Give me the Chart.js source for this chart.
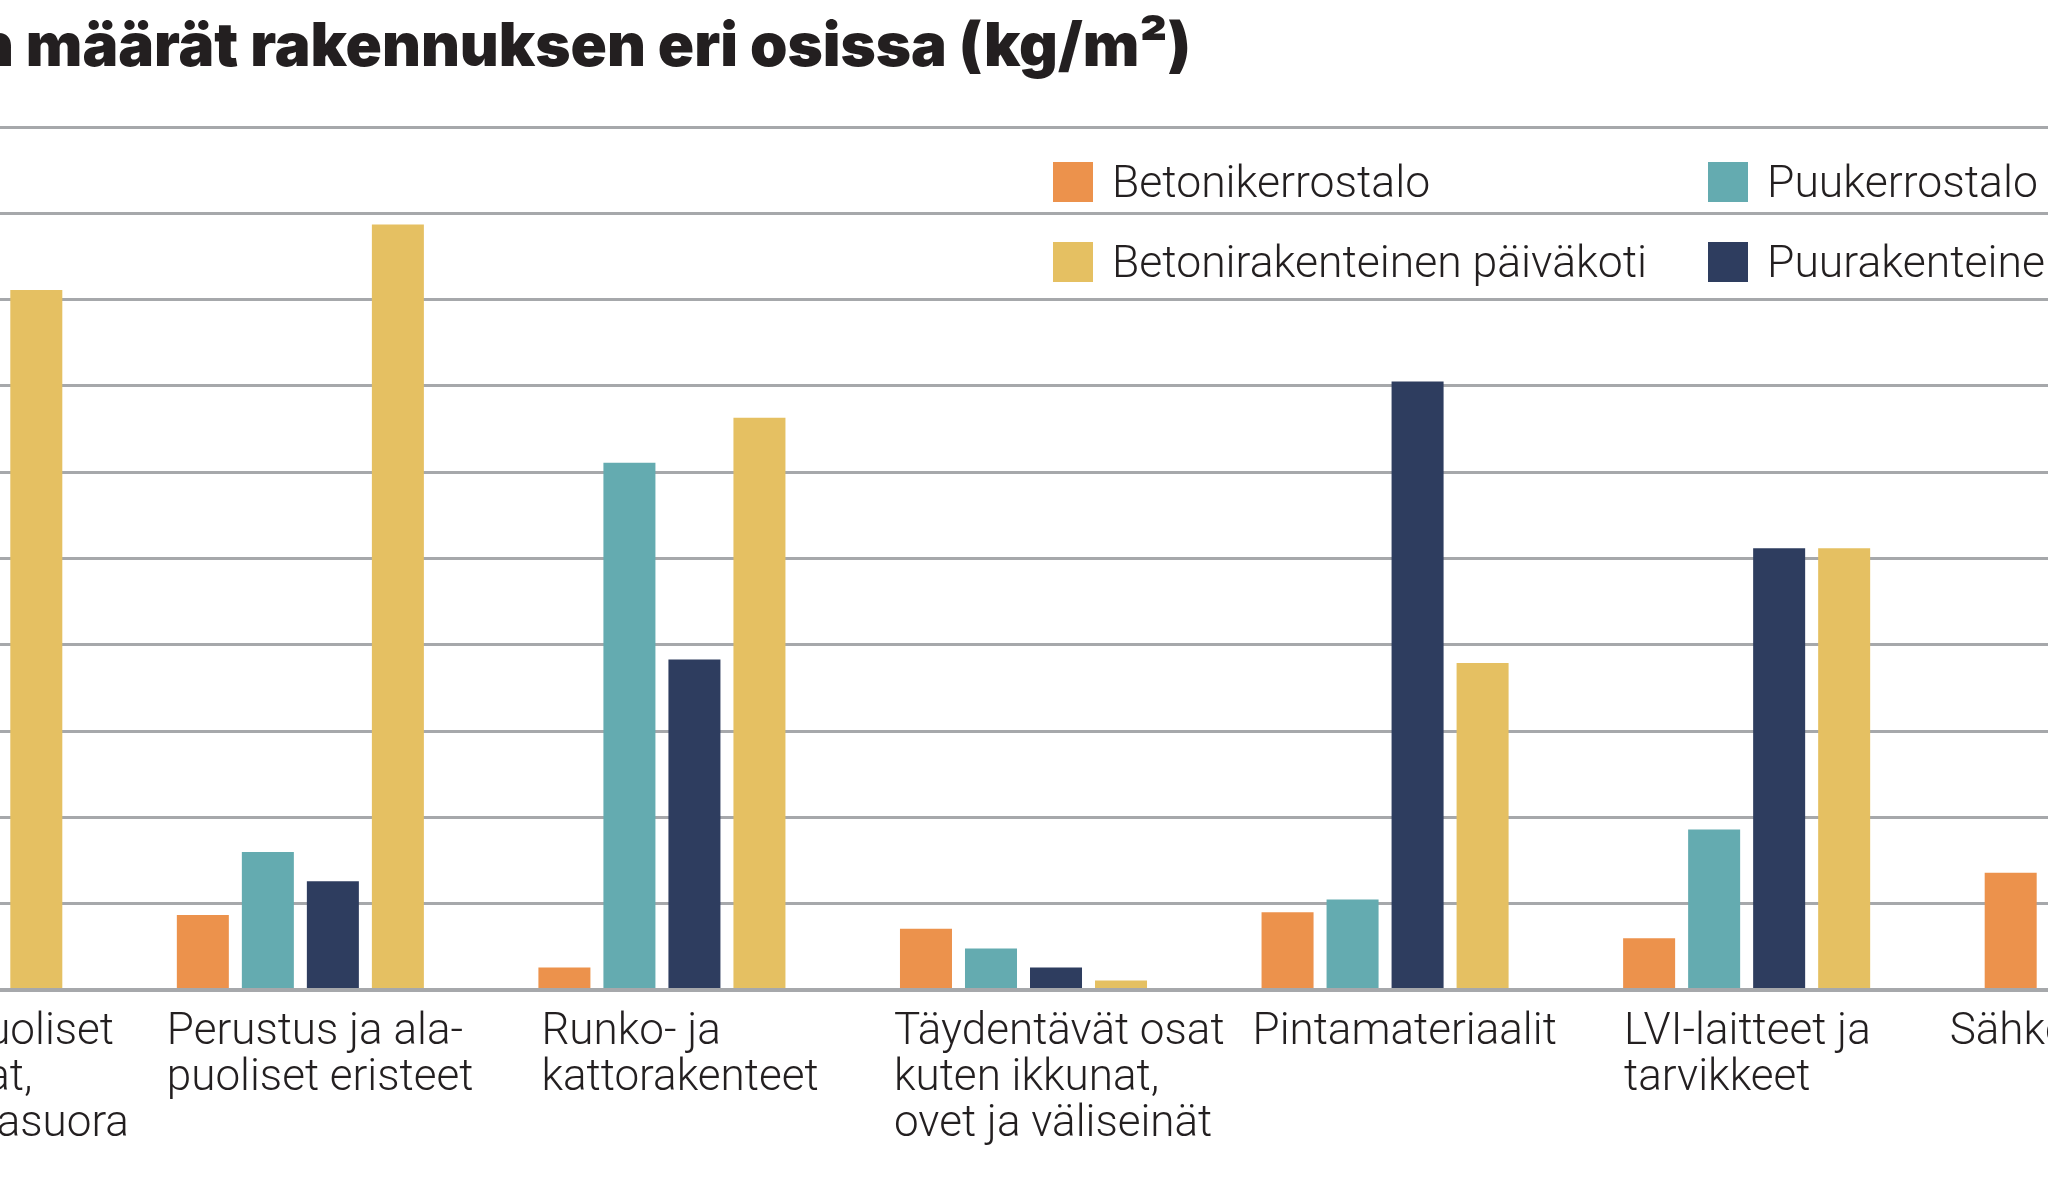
<!DOCTYPE html>
<html><head><meta charset="utf-8">
<script src="https://cdn.jsdelivr.net/npm/chart.js@4.4.1/dist/chart.umd.min.js"></script>
<style>
html,body{margin:0;padding:0;background:#fff;overflow:hidden;width:2048px;height:1195px;}
#wrap{position:absolute;left:-242px;top:0;width:2531px;height:1195px;}
</style></head><body>
<div id="wrap"><canvas id="c" width="2531" height="1195"></canvas></div>
<script>
// ---- data ----
const titleText = "Sitoutuneen hiilen määrät rakennuksen eri osissa (kg/m²)";
const categories = [
  ["Muu yläpuoliset", "ovi, ikkunat,", "julkisivut, asuora"],
  ["Perustus ja ala-", "puoliset eristeet"],
  ["Runko- ja", "kattorakenteet"],
  ["Täydentävät osat", "kuten ikkunat,", "ovet ja väliseinät"],
  ["Pintamateriaalit"],
  ["LVI-laitteet ja", "tarvikkeet"],
  ["Sähköjärjestelmät"]
];
const seriesNames = ["Betonikerrostalo", "Puukerrostalo", "Puurakenteinen päiväkoti", "Betonirakenteinen päiväkoti"];
const seriesColors = ["#ec924c", "#64abb0", "#2e3d5f", "#e5c062"];
const betonikerrostalo = [null, 8.7, 2.6, 7.1, 9.0, 6.0, 13.6];
const puukerrostalo    = [null, 16.0, 61.1, 4.8, 10.5, 18.6, null];
const puuPaivakoti     = [null, 12.6, 38.3, 2.6, 70.5, 51.2, null];
const betoniPaivakoti  = [81.1, 88.7, 66.3, 1.1, 37.9, 51.2, null];
const yTicks = [0, 10, 20, 30, 40, 50, 60, 70, 80, 90, 100];
// legend arrangement: [column][row] -> series index
const legendOrder = [[0, 3], [1, 2]];

// ---- layout / style ----
const PAGE_SHIFT = 242; // canvas starts 242px left of the page
const CAT_PCT = 260 / 361.5;
const BAR_PCT = 0.8;
const labelNudge = [-5, -10, 3, -6, -9, 1, -35];
const labelFont = '300 44px Roboto, "Open Sans", sans-serif';

const overlay = {
  id: 'overlay',
  afterDraw(chart) {
    const ctx = chart.ctx;
    const xs = chart.scales.x;
    ctx.save();
    // category labels
    const catW = xs.getPixelForValue(1) - xs.getPixelForValue(0);
    const groupW = catW * CAT_PCT;
    const slot = groupW / 4;
    ctx.font = labelFont;
    ctx.fillStyle = '#231f20';
    ctx.textAlign = 'left';
    ctx.textBaseline = 'alphabetic';
    categories.forEach((lines, i) => {
      const c = xs.getPixelForValue(i);
      const left = c - groupW / 2 + slot * (1 - BAR_PCT) / 2 + labelNudge[i];
      lines.forEach((ln, j) => ctx.fillText(ln, left, 1044 + j * 46));
    });
    // page coordinates for title and legend
    ctx.translate(PAGE_SHIFT, 0);
    ctx.font = '900 60px Inter, Lato, "Open Sans", sans-serif';
    ctx.textAlign = 'right';
    ctx.fillStyle = '#231f20';
    ctx.fillText(titleText, 1191, 66);
    const colX = [1053, 1708], rowY = [162, 242];
    ctx.font = '300 44.5px Roboto, "Open Sans", sans-serif';
    ctx.textAlign = 'left';
    legendOrder.forEach((col, ci) => col.forEach((si, ri) => {
      ctx.fillStyle = chart.data.datasets[si].backgroundColor;
      ctx.fillRect(colX[ci], rowY[ri], 40, 40);
      ctx.fillStyle = '#231f20';
      ctx.fillText(chart.data.datasets[si].label, colX[ci] + 59, rowY[ri] + 35);
    }));
    ctx.restore();
  }
};

const seriesData = [betonikerrostalo, puukerrostalo, puuPaivakoti, betoniPaivakoti];
new Chart(document.getElementById('c'), {
  type: 'bar',
  data: {
    labels: categories.map(l => l.join(' ')),
    datasets: seriesData.map((d, i) => ({
      label: seriesNames[i],
      data: d,
      backgroundColor: seriesColors[i],
      borderWidth: 0,
      categoryPercentage: CAT_PCT,
      barPercentage: BAR_PCT
    }))
  },
  options: {
    responsive: false,
    animation: false,
    devicePixelRatio: 1,
    layout: { padding: { left: 0, right: 0, top: 127, bottom: 205 } },
    plugins: { legend: { display: false }, title: { display: false }, tooltip: { enabled: false } },
    scales: {
      x: { display: false },
      y: {
        min: 0, max: 100,
        afterBuildTicks: s => { s.ticks = yTicks.map(v => ({ value: v })); },
        afterFit: s => { s.width = 0; },
        ticks: { display: false },
        border: { display: false },
        grid: {
          drawTicks: false,
          color: '#a6a8ab',
          lineWidth: c => (c.tick && c.tick.value === 0) ? 4 : 3
        }
      }
    }
  },
  plugins: [overlay]
});
</script>
</body></html>
